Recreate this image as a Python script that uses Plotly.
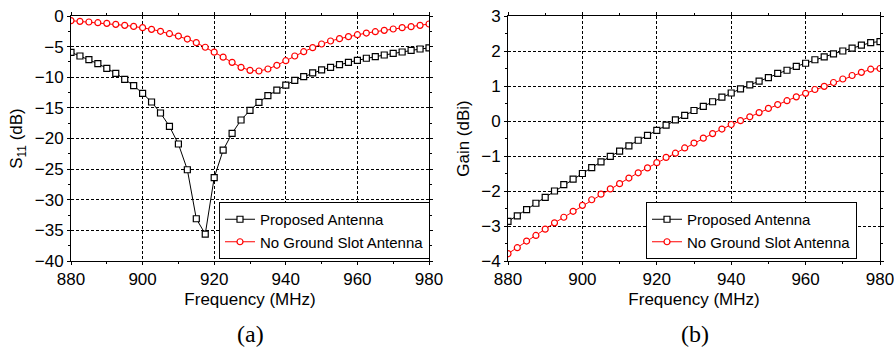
import plotly.graph_objects as go

freq = [880 + 2.5 * i for i in range(41)]

s11_proposed = [-5.93, -6.53, -7.13, -7.78, -8.54, -9.36, -10.34, -11.37, -12.63, -14.04,
                -15.84, -18.01, -20.9, -25.1, -33.1, -35.6, -26.4, -21.9, -19.15, -16.98,
                -15.4, -14.1, -13.0, -12.1, -11.27, -10.5, -9.9, -9.3, -8.8, -8.4,
                -7.95, -7.57, -7.24, -6.9, -6.64, -6.37, -6.1, -5.88, -5.6, -5.39, -5.22]
s11_noslot = [-0.76, -0.87, -0.98, -1.09, -1.2, -1.36, -1.53, -1.7, -1.9, -2.18,
              -2.5, -2.89, -3.27, -3.76, -4.35, -5.1, -5.9, -6.72, -7.57, -8.38,
              -8.87, -8.98, -8.65, -8.05, -7.3, -6.53, -5.83, -5.17, -4.57, -4.08,
              -3.7, -3.37, -3.05, -2.78, -2.56, -2.34, -2.12, -1.9, -1.74, -1.53, -1.31]
gain_proposed = [-2.87, -2.71, -2.53, -2.35, -2.18, -2.0, -1.82, -1.66, -1.5, -1.33,
                 -1.17, -1.01, -0.86, -0.71, -0.55, -0.41, -0.27, -0.12, 0.03, 0.16,
                 0.3, 0.42, 0.55, 0.68, 0.8, 0.92, 1.03, 1.14, 1.24, 1.36,
                 1.45, 1.56, 1.65, 1.75, 1.83, 1.92, 2.0, 2.08, 2.17, 2.24, 2.27]
gain_noslot = [-3.79, -3.62, -3.43, -3.27, -3.09, -2.91, -2.75, -2.58, -2.41, -2.25,
               -2.09, -1.94, -1.79, -1.63, -1.48, -1.34, -1.19, -1.04, -0.92, -0.77,
               -0.63, -0.49, -0.36, -0.23, -0.1, 0.01, 0.12, 0.24, 0.36, 0.47,
               0.58, 0.69, 0.79, 0.9, 0.99, 1.1, 1.2, 1.3, 1.39, 1.48, 1.5]

names = ["Proposed Antenna", "No Ground Slot Antenna"]
x_ticks = [880, 900, 920, 940, 960, 980]
s11_ticks = [0, -5, -10, -15, -20, -25, -30, -35, -40]
gain_ticks = [3, 2, 1, 0, -1, -2, -3, -4]

FONT = "Liberation Sans, Arial, sans-serif"
SERIF = "Liberation Serif, Times New Roman, serif"
W, H = 894, 348
fig = go.Figure()

def add(x, y, name, color, symbol, xa, ya, leg):
    fig.add_trace(go.Scatter(
        x=x, y=y, name=name, mode="lines+markers", xaxis=xa, yaxis=ya, legend=leg,
        line=dict(color=color, width=1),
        marker=dict(symbol=symbol, size=6, color="white", line=dict(color=color, width=1.2)),
    ))

add(freq, s11_proposed, names[0], "black", "square", "x", "y", "legend")
add(freq, s11_noslot, names[1], "#ff0000", "circle", "x", "y", "legend")
add(freq, gain_proposed, names[0], "black", "square", "x2", "y2", "legend2")
add(freq, gain_noslot, names[1], "#ff0000", "circle", "x2", "y2", "legend2")

yb, yt = 1 - 261 / H, 1 - 16 / H
GRIDDASH = "3px,2px"
x_minor = [890, 910, 930, 950, 970]

def xaxis(dom, anchor):
    return dict(domain=dom, anchor=anchor, range=[880, 980], tickvals=x_ticks,
                showline=True, linecolor="black", linewidth=1, mirror="allticks",
                ticks="outside", ticklen=3, tickcolor="black",
                minor=dict(tickvals=x_minor, ticks="outside",
                           ticklen=2, tickcolor="black", showgrid=False),
                showgrid=True, gridcolor="black", griddash=GRIDDASH, gridwidth=1,
                zeroline=False, ticklabeloverflow="allow",
                tickfont=dict(family=FONT, size=17, color="black"),
                title=dict(text="Frequency (MHz)", font=dict(family=FONT, size=17, color="black"),
                           standoff=4),
                automargin=False)

def xaxis_in(over, anchor, dom):
    return dict(domain=dom, overlaying=over, anchor=anchor, range=[880, 980], tickvals=x_ticks,
                showline=False, mirror="ticks", ticks="inside", ticklen=3, tickcolor="black",
                minor=dict(tickvals=x_minor, ticks="inside",
                           ticklen=2, tickcolor="black", showgrid=False),
                showgrid=False, zeroline=False, showticklabels=False)

def yaxis(rng, tv, minor_vals, title, anchor, standoff):
    return dict(domain=[yb, yt], anchor=anchor, range=rng, tickvals=tv,
                showline=True, linecolor="black", linewidth=1, mirror="allticks",
                ticks="outside", ticklen=3, tickcolor="black",
                minor=dict(tickvals=minor_vals, ticks="outside", ticklen=2,
                           tickcolor="black", showgrid=False),
                showgrid=True, gridcolor="black", griddash=GRIDDASH, gridwidth=1,
                zeroline=False, ticklabeloverflow="allow",
                tickfont=dict(family=FONT, size=17, color="black"),
                title=dict(text=title, font=dict(family=FONT, size=17, color="black"),
                           standoff=standoff),
                automargin=False)

def yaxis_in(over, anchor, rng, tv, minor_vals):
    return dict(domain=[yb, yt], overlaying=over, anchor=anchor, range=rng, tickvals=tv,
                showline=False, mirror="ticks", ticks="inside", ticklen=3, tickcolor="black",
                minor=dict(tickvals=minor_vals, ticks="inside", ticklen=2,
                           tickcolor="black", showgrid=False),
                showgrid=False, zeroline=False, showticklabels=False)

s11_minor = [-2.5 - 5 * i for i in range(8)]
gain_minor = [2.5 - i for i in range(7)]

legend_common = dict(bgcolor="white", bordercolor="black", borderwidth=1,
                     font=dict(family=FONT, size=15, color="black"),
                     xanchor="left", yanchor="top", tracegroupgap=0,
                     itemwidth=30)

fig.update_layout(
    width=W, height=H, margin=dict(l=0, r=0, t=0, b=0),
    paper_bgcolor="white", plot_bgcolor="white",
    xaxis=xaxis([71 / W, 429 / W], "y"),
    yaxis=yaxis([-40, 0], s11_ticks, s11_minor, "S<sub>11</sub> (dB)", "x", 7),
    xaxis2=xaxis([508 / W, 880 / W], "y2"),
    yaxis2=yaxis([-4, 3], gain_ticks, gain_minor, "Gain (dBi)", "x2", 7),
    xaxis3=xaxis_in("x", "y", [71 / W, 429 / W]),
    yaxis3=yaxis_in("y", "x", [-40, 0], s11_ticks, s11_minor),
    xaxis4=xaxis_in("x2", "y2", [508 / W, 880 / W]),
    yaxis4=yaxis_in("y2", "x2", [-4, 3], gain_ticks, gain_minor),
    legend=dict(x=219 / W, y=1 - 202 / H, **legend_common),
    legend2=dict(x=646 / W, y=1 - 202 / H, **legend_common),
    annotations=[
        dict(text="(a)", x=250 / W, y=0, xref="paper", yref="paper",
             xanchor="center", yanchor="bottom", yshift=-1,
             showarrow=False, font=dict(family=SERIF, size=24, color="black")),
        dict(text="(b)", x=695 / W, y=0, xref="paper", yref="paper",
             xanchor="center", yanchor="bottom", yshift=-1,
             showarrow=False, font=dict(family=SERIF, size=24, color="black")),
    ],
)

fig.write_html("out.html")
